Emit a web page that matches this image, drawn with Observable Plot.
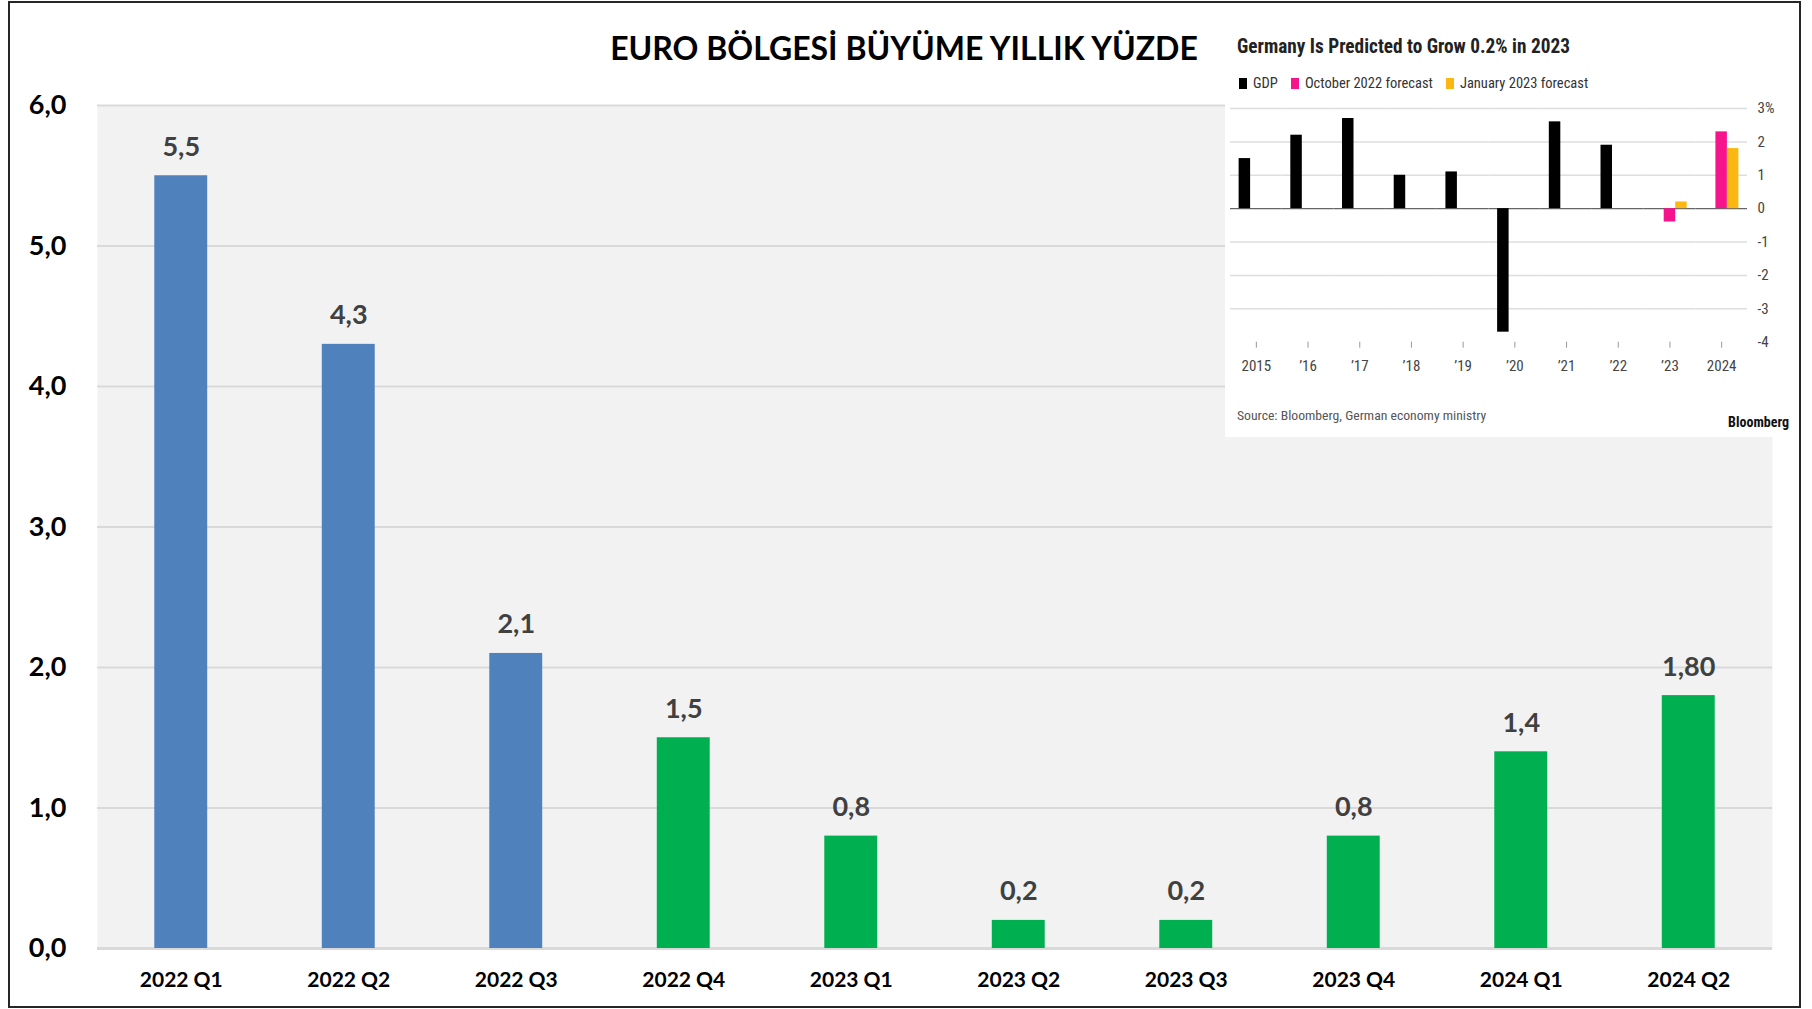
<!DOCTYPE html>
<html>
<head>
<meta charset="utf-8">
<script src="https://cdn.jsdelivr.net/npm/d3@7"></script>
<script src="https://cdn.jsdelivr.net/npm/@observablehq/plot@0.6"></script>
<style>
  html, body { margin: 0; padding: 0; background: #fff; }
  #page { position: relative; width: 1812px; height: 1009px; overflow: hidden; font-family: Lato, "Open Sans", sans-serif; }
  #main { position: absolute; left: 0; top: 0; }
  #title { position: absolute; left: 0; width: 1808px; top: 31px; line-height: 33px; text-align: center;
           font-family: Lato, sans-serif; font-weight: 700; font-size: 32px; color: #000; white-space: nowrap; }
  #inset { position: absolute; left: 1225px; top: 20px; width: 575px; height: 417px; background: #fff;
           font-family: "Liberation Sans Narrow", "Roboto Condensed", "Arial Narrow", Roboto, sans-serif; }
  #insetPlot { position: absolute; left: 0; top: 0; }
  .ititle { position: absolute; left: 12px; top: 17px; font-size: 19.3px; line-height: 19px; font-weight: 700; color: #222; white-space: nowrap; }
  .ilegend { position: absolute; left: 14px; top: 55px; height: 16px; display: flex; align-items: center; font-size: 14.5px; color: #333; white-space: nowrap; }
  .ilegend .sw { display: inline-block; width: 8px; height: 11px; margin-right: 6px; }
  .ilegend .item { display: inline-flex; align-items: center; margin-right: 13px; }
  .isource { position: absolute; left: 12px; top: 389px; font-size: 13.7px; line-height: 13.5px; color: #555; white-space: nowrap; }
  .ibrand { position: absolute; right: 11px; top: 395px; font-size: 14px; line-height: 14px; font-weight: 700; color: #111; white-space: nowrap; }
  #frame { position: absolute; left: 8px; top: 1px; width: 1793px; height: 1007px; border: 2px solid #262626; box-sizing: border-box; pointer-events: none; }
</style>
</head>
<body>
<div id="page">
  <div id="main"></div>
  <div id="title">EURO BÖLGESİ BÜYÜME YILLIK YÜZDE</div>
  <div id="inset">
    <div id="insetPlot"></div>
    <div class="ititle">Germany Is Predicted to Grow 0.2% in 2023</div>
    <div class="ilegend" id="ilegend"></div>
    <div class="isource">Source: Bloomberg, German economy ministry</div>
    <div class="ibrand">Bloomberg</div>
  </div>
  <div id="frame"></div>
</div>
<script>
// ---------- Main chart data ----------
const periods = ["2022 Q1", "2022 Q2", "2022 Q3", "2022 Q4", "2023 Q1", "2023 Q2", "2023 Q3", "2023 Q4", "2024 Q1", "2024 Q2"];
const growth = [5.5, 4.3, 2.1, 1.5, 0.8, 0.2, 0.2, 0.8, 1.4, 1.80];
const growthLabels = ["5,5", "4,3", "2,1", "1,5", "0,8", "0,2", "0,2", "0,8", "1,4", "1,80"];
const barGroup = ["a", "a", "a", "b", "b", "b", "b", "b", "b", "b"];
const groupNames = ["a", "b"];
const groupColors = ["#4f81bd", "#00b050"];
const yTicks = [0, 1, 2, 3, 4, 5, 6];

// ---------- Inset chart data ----------
const insetYears = [2015, 2016, 2017, 2018, 2019, 2020, 2021, 2022, 2023, 2024];
const gdpYears = [2015, 2016, 2017, 2018, 2019, 2020, 2021, 2022];
const gdpValues = [1.5, 2.2, 2.7, 1.0, 1.1, -3.7, 2.6, 1.9];
const forecastYears = [2023, 2024];
const oct2022Forecast = [-0.4, 2.3];
const jan2023Forecast = [0.2, 1.8];
const insetSeries = ["GDP", "October 2022 forecast", "January 2023 forecast"];
const insetColors = ["#000000", "#f5148c", "#fcb712"];
const insetYTicks = [-4, -3, -2, -1, 0, 1, 2, 3];

// ---------- Main chart ----------
const rows = periods.map((p, i) => ({period: p, value: growth[i], label: growthLabels[i], group: barGroup[i]}));

const main = Plot.plot({
  width: 1812,
  height: 1009,
  marginLeft: 97,
  marginRight: 40,
  marginTop: 105,
  marginBottom: 61,
  style: {fontFamily: "Lato, sans-serif", color: "#000", background: "transparent", overflow: "visible"},
  x: {domain: periods, paddingInner: 0.684, paddingOuter: 0.342, round: false, label: null},
  y: {domain: [0, 6], label: null},
  color: {domain: groupNames, range: groupColors},
  marks: [
    Plot.frame({fill: "#f2f2f2", stroke: "none"}),
    Plot.gridY({ticks: yTicks.filter(d => d !== 0), stroke: "#d9d9d9", strokeOpacity: 1, strokeWidth: 2}),
    Plot.ruleY([0], {stroke: "#d9d9d9", strokeWidth: 3}),
    Plot.barY(rows, {x: "period", y: "value", fill: "group"}),
    Plot.text(rows, {x: "period", y: "value", text: "label", dy: -20, lineAnchor: "bottom",
                     fill: "#404040", fontSize: 27, fontWeight: "bold"}),
    Plot.axisY({ticks: yTicks, tickFormat: d => d.toFixed(1).replace(".", ","), tickSize: 0, tickPadding: 31,
                fontSize: 27, fontWeight: "bold", fill: "#000", label: null}),
    Plot.axisX({tickSize: 0, tickPadding: 24, fontSize: 21, fontWeight: "bold", fill: "#000", label: null})
  ]
});
document.getElementById("main").appendChild(main);

// ---------- Inset chart ----------
const insetRows = [
  ...gdpYears.map((y, i) => ({year: y, series: insetSeries[0], value: gdpValues[i]})),
  ...forecastYears.map((y, i) => ({year: y, series: insetSeries[1], value: oct2022Forecast[i]})),
  ...forecastYears.map((y, i) => ({year: y, series: insetSeries[2], value: jan2023Forecast[i]}))
];

const yearFormat = y => (y === insetYears[0] || y === insetYears[insetYears.length - 1]) ? String(y) : "\u2019" + String(y).slice(2);

const inset = Plot.plot({
  width: 575,
  height: 380,
  marginTop: 88,
  marginRight: 53,
  marginBottom: 58.3,
  marginLeft: 5,
  style: {fontFamily: "'Liberation Sans Narrow', 'Roboto Condensed', 'Arial Narrow', Roboto, sans-serif", color: "#444", background: "transparent", overflow: "visible"},
  fx: {domain: insetYears, padding: 0, round: false, label: null},
  x: {domain: insetSeries, paddingInner: 0, paddingOuter: 0.75, round: false, axis: null, label: null},
  y: {domain: [-4, 3], label: null},
  color: {domain: insetSeries, range: insetColors},
  marks: [
    Plot.gridY({ticks: insetYTicks.filter(d => d !== 0 && d !== -4), stroke: "#dedede", strokeOpacity: 1, strokeWidth: 1.5}),
    Plot.ruleY([0], {stroke: "#666", strokeWidth: 1.2}),
    Plot.barY(insetRows, {fx: "year", x: "series", y: "value", fill: "series"}),
    Plot.axisY({anchor: "right", ticks: insetYTicks, tickSize: 0, tickPadding: 10,
                tickFormat: d => d === 3 ? "3%" : String(d), fontSize: 15, fill: "#444", label: null}),
    Plot.axisFx({anchor: "bottom", tickSize: 6, tickPadding: 12, tickFormat: yearFormat,
                 fontSize: 15, fill: "#444", stroke: "#999", label: null})
  ]
});
document.getElementById("insetPlot").appendChild(inset);

// inset legend
const leg = document.getElementById("ilegend");
insetSeries.forEach((s, i) => {
  const item = document.createElement("span");
  item.className = "item";
  const sw = document.createElement("span");
  sw.className = "sw";
  sw.style.background = insetColors[i];
  item.appendChild(sw);
  item.appendChild(document.createTextNode(s));
  leg.appendChild(item);
});
</script>
</body>
</html>
